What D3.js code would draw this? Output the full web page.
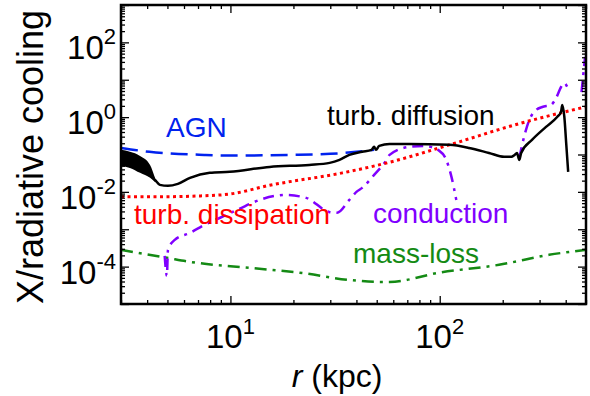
<!DOCTYPE html>
<html lang="en">
<head>
<meta charset="UTF-8">
<title>X/radiative cooling</title>
<style>
  *{margin:0;padding:0;}
  body{background:#fff;}
  svg text{font-family:"Liberation Sans", Arial, Helvetica, sans-serif;}
</style>
</head>
<body>
<div id="container"></div>
<script src="https://cdn.jsdelivr.net/npm/d3@7/dist/d3.min.js"></script>
<script>
// r in kpc, values are the ratio to radiative cooling
var agnR = [3, 4.1, 7.5, 10, 20, 30, 40, 48.6],
    agnV = [0.150, 0.118, 0.0976, 0.094, 0.0976, 0.104, 0.118, 0.133];

var diffR = [3, 3.7, 4.36, 4.6, 5.03, 5.61, 6.41, 7.97, 9.93, 15.4, 23.8, 29.8, 33.2, 37.0, 42.6, 47.2, 48.6, 49.6, 51.4, 57.6,
             71.5, 111, 138, 172, 203, 220, 228, 234, 240, 245, 276, 322, 364, 380, 385, 394, 402, 411],
    diffV = [0.081, 0.0527, 0.0209, 0.0154, 0.0145, 0.0164, 0.0237, 0.0323, 0.0343, 0.0466, 0.0527, 0.0597, 0.0718, 0.0976, 0.118, 0.133, 0.160, 0.133, 0.17, 0.192,
             0.192, 0.181, 0.150, 0.110, 0.0865, 0.0865, 0.0976, 0.110, 0.0718, 0.110, 0.245, 0.547, 1.01, 1.38, 2.12, 1.01, 0.204, 0.0343];
// noisy inner part of turb. diffusion (envelope)
var bandR = [3, 3.31, 3.7, 4.13, 4.36],
    bandHi = [0.133, 0.118, 0.0918, 0.0527, 0.0237],
    bandLo = [0.0495, 0.0438, 0.0323, 0.0237, 0.0185];

var dissR = [3, 4.1, 7.2, 10, 15.4, 34.3, 57.6, 111, 240, 495],
    dissV = [0.00735, 0.00735, 0.0078, 0.0088, 0.015, 0.0322, 0.062, 0.181, 0.67, 1.87];

var condR1 = [4.85, 4.97, 5.03, 5.42, 6.41, 7.51, 8.88, 11.0, 13.8, 16.3, 18.2, 23.0, 29.6, 32.3, 37.0, 40.0, 42.6, 48.6, 55.7, 57.6, 71.5, 84.4, 99.6, 107.5, 113.8, 120],
    condV1 = [1.94e-4, 5.7e-5, 2.8e-4, 5.2e-4, 8.0e-4, 1.31e-3, 2.0e-3, 3.5e-3, 6.1e-3, 7.8e-3, 8.3e-3, 6.9e-3, 2.9e-3, 2.75e-3, 6.1e-3, 0.010, 0.0128, 0.0285, 0.0718, 0.0976, 0.160, 0.17, 0.125, 0.0718, 0.0252, 6.1e-3];
var condR2 = [240, 253, 268, 289, 309, 340, 360, 380, 394, 407],
    condV2 = [0.081, 0.296, 0.84, 1.56, 1.87, 2.12, 3.26, 6.4, 8.2, 6.4];
var condR3 = [476, 495],
    condV3 = [4.7, 40.7];

var massR = [3, 4.97, 6.41, 12.3, 21.4, 37.0, 51.4, 57.6, 99.6, 192, 333, 495],
    massV = [2.8e-4, 1.72e-4, 1.34e-4, 9.3e-5, 6.9e-5, 4.4e-5, 3.9e-5, 3.9e-5, 6.9e-5, 1.12e-4, 2.07e-4, 2.8e-4];

var labelNames = ['AGN', 'turb. diffusion', 'turb. dissipation', 'conduction', 'mass-loss'];
var xLabelExp = [1, 2],
    yLabelExp = [-4, -2, 0, 2];

var margin = {left: 121, top: 5, right: 4, bottom: 92},
    W = 590, H = 396,
    w = W - margin.left - margin.right,
    h = H - margin.top - margin.bottom;

var svg = d3.select('#container').append('svg').attr('width', W).attr('height', H);
var g = svg.append('g').attr('transform', `translate(${margin.left},${margin.top})`);

var x = d3.scaleLog().domain([3, 500]).range([0, w]);
var y = d3.scaleLog().domain([1e-5, 1e3]).range([h, 0]);

g.append('clipPath').attr('id', 'clip').append('rect').attr('width', w).attr('height', h);
var plot = g.append('g').attr('clip-path', 'url(#clip)');

function pts(rs, vs) { return rs.map(function (r, i) { return [r, vs[i]]; }); }
var line = d3.line().x(function (d) { return x(d[0]); }).y(function (d) { return y(d[1]); }).curve(d3.curveMonotoneX);

// band
plot.append('path')
  .datum(bandR.map(function (r, i) { return [r, bandLo[i], bandHi[i]]; }))
  .attr('d', d3.area().x(function (d) { return x(d[0]); }).y0(function (d) { return y(d[1]); }).y1(function (d) { return y(d[2]); }).curve(d3.curveMonotoneX))
  .attr('fill', '#000');

var series = [
  {r: massR, v: massV, color: '#148a14', dash: '12,6,3,6', sw: 2.5},
  {r: condR1, v: condV1, color: '#8000ff', dash: '11,6,3,6', sw: 2.5},
  {r: condR2, v: condV2, color: '#8000ff', dash: '11,6,3,6', sw: 2.5},
  {r: condR3, v: condV3, color: '#8000ff', dash: '11,6,3,6', sw: 2.5},
  {r: dissR, v: dissV, color: '#ff0000', dash: '3,3.5', sw: 3},
  {r: agnR, v: agnV, color: '#0022ee', dash: '17,8', sw: 2.5},
  {r: diffR, v: diffV, color: '#000', dash: null, sw: 2.5}
];
series.forEach(function (s) {
  plot.append('path')
    .datum(pts(s.r, s.v))
    .attr('d', line)
    .attr('fill', 'none')
    .attr('stroke', s.color)
    .attr('stroke-width', s.sw)
    .attr('stroke-dasharray', s.dash);
});

// ticks: majors every decade, minors 2..9
var xMaj = [], xMin = [], yMaj = [], yMin = [];
for (var k = 0; k <= 2; k++) for (var m = 1; m < 10; m++) {
  var v = m * Math.pow(10, k);
  if (v < 3 || v > 500) continue;
  (m === 1 ? xMaj : xMin).push(v);
}
for (var k = -5; k <= 3; k++) for (var m = 1; m < 10; m++) {
  var v = m * Math.pow(10, k);
  if (v > 1e3) continue;
  (m === 1 ? yMaj : yMin).push(v);
}

function tickAxis(axisFn, scale, vals, size, tr) {
  var a = g.append('g').attr('transform', tr)
    .call(axisFn(scale).tickValues(vals).tickSize(size).tickFormat(''));
  a.select('.domain').remove();
  a.selectAll('line').attr('stroke', '#000').attr('stroke-width', 1.3);
}
tickAxis(d3.axisBottom, x, xMaj, -8, `translate(0,${h})`);
tickAxis(d3.axisBottom, x, xMin, -4, `translate(0,${h})`);
tickAxis(d3.axisTop, x, xMaj, -8, 'translate(0,0)');
tickAxis(d3.axisTop, x, xMin, -4, 'translate(0,0)');
tickAxis(d3.axisLeft, y, yMaj, -8, 'translate(0,0)');
tickAxis(d3.axisLeft, y, yMin, -4, 'translate(0,0)');
tickAxis(d3.axisRight, y, yMaj, -8, `translate(${w},0)`);
tickAxis(d3.axisRight, y, yMin, -4, `translate(${w},0)`);

g.append('rect').attr('width', w).attr('height', h)
  .attr('fill', 'none').attr('stroke', '#000').attr('stroke-width', 2.5);

// tick labels
xLabelExp.forEach(function (e) {
  var t = g.append('text').attr('x', x(Math.pow(10, e))).attr('y', h + 44)
    .attr('text-anchor', 'middle').attr('font-size', 33).attr('fill', '#000');
  t.append('tspan').text('10');
  t.append('tspan').attr('dy', -14).attr('font-size', 22).text(e);
});
yLabelExp.forEach(function (e) {
  var t = g.append('text').attr('x', -5).attr('y', y(Math.pow(10, e)) + 17)
    .attr('text-anchor', 'end').attr('font-size', 33).attr('fill', '#000');
  t.append('tspan').text('10');
  t.append('tspan').attr('dy', -15).attr('font-size', 22).text(e < 0 ? '-' + (-e) : e);
});

// axis titles
var xt = svg.append('text').attr('x', 337).attr('y', 387).attr('text-anchor', 'middle').attr('font-size', 32);
xt.append('tspan').attr('font-style', 'italic').text('r');
xt.append('tspan').text(' (kpc)');
svg.append('text').attr('transform', 'translate(43,157) rotate(-90)')
  .attr('text-anchor', 'middle').attr('font-size', 36).text('X/radiative cooling');

// curve labels
var labelPos = [[166, 137, '#0022ee'], [327, 125, '#000'], [134, 224, '#ff0000'], [373, 223, '#8000ff'], [353, 263, '#148a14']];
labelNames.forEach(function (n, i) {
  svg.append('text').attr('x', labelPos[i][0]).attr('y', labelPos[i][1])
    .attr('font-size', 28).attr('fill', labelPos[i][2]).text(n);
});
</script>
</body>
</html>
